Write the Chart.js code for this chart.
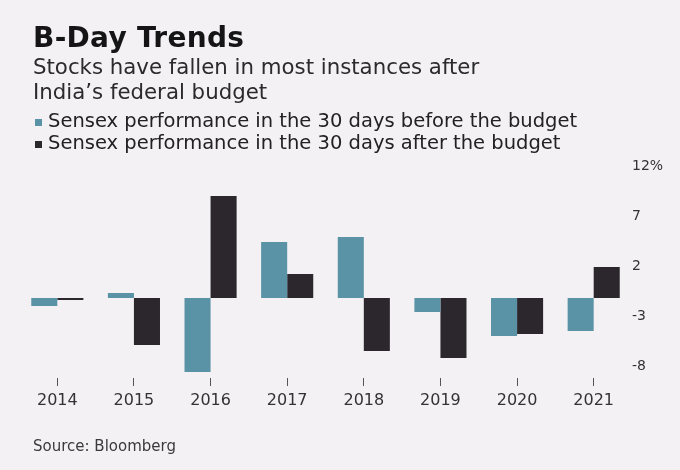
<!DOCTYPE html>
<html>
<head>
<meta charset="utf-8">
<script src="https://cdn.jsdelivr.net/npm/chart.js@4.4.1/dist/chart.umd.min.js"></script>
<style>
  html, body { margin: 0; padding: 0; background: #f3f1f4; }
  #wrap { position: relative; width: 680px; height: 470px; overflow: hidden; background: #f3f1f4; font-family: "DejaVu Sans", sans-serif; color: #222; }
  #c { position: absolute; left: 0; top: 0; }
  .t { position: absolute; left: 33px; white-space: nowrap; line-height: 1.164; }
  #title { top: 22px; font-size: 28px; font-weight: 700; color: #151515; letter-spacing: 0.3px; }
  #sub1 { top: 55px; font-size: 21.3px; color: #2b2b2b; }
  #sub2 { top: 80px; font-size: 21.3px; color: #2b2b2b; }
  .lg { position: absolute; left: 48px; font-size: 19.5px; color: #222; line-height: 1.164; white-space: nowrap; }
  .sq { position: absolute; left: 35px; width: 7px; height: 7px; }
  #src { top: 438px; font-size: 15px; color: #3a3a3a; }
</style>
</head>
<body>
<div id="wrap">
  <canvas id="c" width="680" height="470"></canvas>
  <div class="t" id="title">B-Day Trends</div>
  <div class="t" id="sub1">Stocks have fallen in most instances after</div>
  <div class="t" id="sub2">India’s federal budget</div>
  <div id="legend"></div>
  <div class="t" id="src">Source: Bloomberg</div>
</div>
<script>
const years = ["2014","2015","2016","2017","2018","2019","2020","2021"];
const beforeBudget = [-0.8, 0.5, -7.4, 5.6, 6.1, -1.4, -3.8, -3.3];
const afterBudget  = [-0.2, -4.7, 10.2, 2.4, -5.3, -6.0, -3.6, 3.1];
const seriesLabels = ["Sensex performance in the 30 days before the budget",
                      "Sensex performance in the 30 days after the budget"];
const yTicks = [-8, -3, 2, 7, 12];

const tealColor = "#5a93a5";
const darkColor = "#2b272c";

const chart = new Chart(document.getElementById("c"), {
  type: "bar",
  data: {
    labels: years,
    datasets: [
      { label: seriesLabels[0], data: beforeBudget, backgroundColor: tealColor, borderWidth: 0 },
      { label: seriesLabels[1], data: afterBudget, backgroundColor: darkColor, borderWidth: 0 }
    ]
  },
  options: {
    responsive: false,
    animation: false,
    devicePixelRatio: 1,
    categoryPercentage: 0.68,
    barPercentage: 1.0,
    layout: { padding: { left: 19, right: 0, top: 178, bottom: 56 } },
    plugins: { legend: { display: false }, tooltip: { enabled: false }, title: { display: false } },
    scales: {
      x: {
        grid: { display: true, drawOnChartArea: false, drawTicks: true, tickLength: 8, offset: false, color: "#555", lineWidth: 1 },
        border: { display: false },
        ticks: { color: "#333", font: { family: "DejaVu Sans", size: 16 }, padding: 5 },
        afterFit: s => { s.height = 36; }
      },
      y: {
        position: "right",
        min: -8, max: 12,
        afterBuildTicks: s => { s.ticks = yTicks.map(v => ({ value: v })); },
        grid: { display: false, drawTicks: false },
        border: { display: false },
        ticks: {
          color: "#333",
          font: { family: "DejaVu Sans", size: 14 },
          labelOffset: -12,
          crossAlign: "near",
          padding: 0,
          callback: v => v === 12 ? "12%" : String(v)
        },
        afterFit: s => { s.width = 48; }
      }
    }
  }
});

// HTML legend generated from the chart datasets
const lg = document.getElementById("legend");
const legendTops = [110, 132];
chart.data.datasets.forEach((ds, i) => {
  const sq = document.createElement("div");
  sq.className = "sq";
  sq.style.top = (legendTops[i] + 9) + "px";
  sq.style.background = ds.backgroundColor;
  lg.appendChild(sq);
  const d = document.createElement("div");
  d.className = "lg";
  d.style.top = legendTops[i] + "px";
  d.textContent = ds.label;
  lg.appendChild(d);
});
</script>
</body>
</html>
